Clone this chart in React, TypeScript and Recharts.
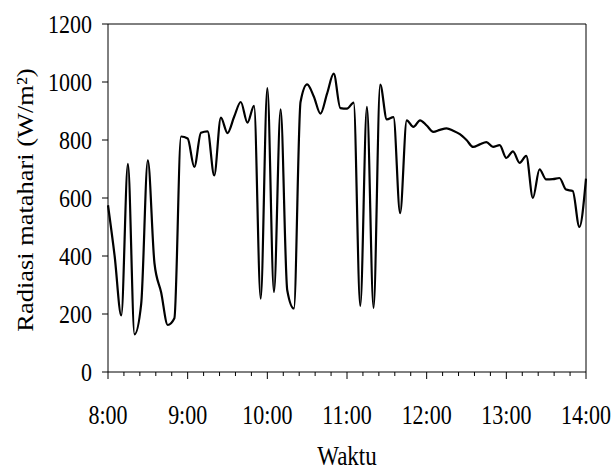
// Solar radiation over the morning, 5-minute samples

import { LineChart, Line, XAxis, YAxis, ReferenceLine, Label } from 'recharts';

// minutes after 8:00
const minutes = [
  0, 5, 10, 15, 20, 25, 30, 35, 40, 45, 50, 55,
  60, 65, 70, 75, 80, 85, 90, 95, 100, 105, 110, 115,
  120, 125, 130, 135, 140, 145, 150, 155, 160, 165, 170, 175,
  180, 185, 190, 195, 200, 205, 210, 215, 220, 225, 230, 235,
  240, 245, 250, 255, 260, 265, 270, 275, 280, 285, 290, 295,
  300, 305, 310, 315, 320, 325, 330, 335, 340, 345, 350, 355,
  360,
];

// W/m²
const radiation = [
  575, 400, 195, 718, 130, 235, 730, 375, 275, 162, 185, 812,
  805, 707, 825, 830, 678, 877, 824, 880, 931, 860, 918, 253,
  979, 276, 906, 282, 219, 931, 992, 950, 891, 960, 1029, 910,
  908, 929, 228, 914, 221, 991, 871, 879, 548, 868, 845, 868,
  850, 828, 835, 840, 832, 820, 800, 776, 785, 793, 776, 782,
  738, 761, 721, 745, 600, 699, 664, 665, 669, 629, 624, 500,
  667,
];

const xTicks = [
  0, 12, 24, 36, 48, 60, 72, 84, 96, 108, 120, 132, 144, 156, 168, 180,
  192, 204, 216, 228, 240, 252, 264, 276, 288, 300, 312, 324, 336, 348, 360,
];
const hourLabels = ['8:00', '9:00', '10:00', '11:00', '12:00', '13:00', '14:00'];
const yTicks = [0, 200, 400, 600, 800, 1000, 1200];

const chartData = minutes.map((m, i) => ({ t: m, value: radiation[i] }));

const FONT = '"Liberation Serif", "Times New Roman", serif';

function XTick({ x, y, payload }: any) {
  const v = payload.value as number;
  const major = v % 60 === 0;
  return (
    <g>
      <line x1={x} x2={x} y1={y} y2={y + (major ? 7 : 4)} stroke="#000" strokeWidth={1} />
      {major && (
        <text
          transform={`translate(${x},${y + 43}) scale(1,1.22)`}
          textAnchor="middle"
          dominantBaseline="central"
          fontFamily={FONT}
          fontSize={22}
          fill="#000"
        >
          {hourLabels[v / 60]}
        </text>
      )}
    </g>
  );
}

function YTick({ x, y, payload }: any) {
  return (
    <text
      transform={`translate(${x},${y}) scale(1,1.18)`}
      textAnchor="end"
      dominantBaseline="central"
      fontFamily={FONT}
      fontSize={22}
      fill="#000"
    >
      {payload.value}
    </text>
  );
}

export default function App() {
  return (
    <div style={{ position: 'absolute', left: 0, top: 0, background: '#fff' }}>
      <LineChart
        width={616}
        height={471}
        data={chartData}
        margin={{ top: 24, right: 30, bottom: 0, left: 0 }}
      >
        <XAxis
          dataKey="t"
          type="number"
          domain={[0, 360]}
          ticks={xTicks}
          interval={0}
          tick={<XTick />}
          tickLine={false}
          tickSize={0}
          tickMargin={0}
          axisLine={{ stroke: '#000', strokeWidth: 1 }}
          height={99}
        >
          <Label
            content={() => (
              <text
                transform="translate(347,455) scale(1,1.2)"
                textAnchor="middle"
                dominantBaseline="central"
                fontFamily={FONT}
                fontSize={23}
                fill="#000"
              >
                Waktu
              </text>
            )}
          />
        </XAxis>
        <YAxis
          type="number"
          domain={[0, 1200]}
          ticks={yTicks}
          interval={0}
          tick={<YTick />}
          tickSize={6}
          tickMargin={10}
          tickLine={{ stroke: '#000', strokeWidth: 1 }}
          axisLine={{ stroke: '#000', strokeWidth: 1 }}
          width={108}
        >
          <Label
            content={() => (
              <text
                transform="translate(25,200) rotate(-90) scale(1.15,1)"
                textAnchor="middle"
                dominantBaseline="central"
                fontFamily={FONT}
                fontSize={23}
                fill="#000"
              >
                Radiasi matahari (W/m²)
              </text>
            )}
          />
        </YAxis>
        <ReferenceLine y={1200} stroke="#000" strokeWidth={1} />
        <ReferenceLine x={360} stroke="#000" strokeWidth={1} />
        <Line
          type="monotone"
          dataKey="value"
          stroke="#000"
          strokeWidth={2.2}
          dot={false}
          isAnimationActive={false}
        />
      </LineChart>
    </div>
  );
}
